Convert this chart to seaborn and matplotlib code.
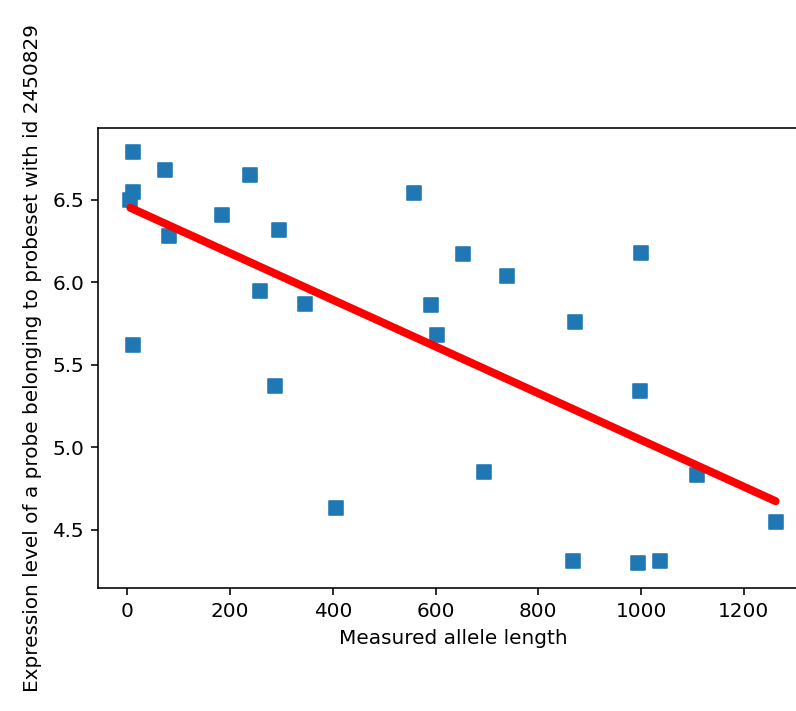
import numpy as np
import pandas as pd
import matplotlib
matplotlib.use("Agg")
import matplotlib.pyplot as plt
import seaborn as sns

allele_length = [12, 74, 238, 12, 6, 185, 82, 295, 258, 345, 558, 592, 603, 12,
                 653, 740, 999, 871, 288, 407, 998, 695, 1109, 1262, 867, 994, 1036]
expression = [6.79, 6.68, 6.65, 6.55, 6.50, 6.41, 6.28, 6.32, 5.95, 5.87, 6.54, 5.86, 5.68, 5.62,
              6.17, 6.04, 6.18, 5.76, 5.37, 4.63, 5.34, 4.85, 4.83, 4.55, 4.31, 4.30, 4.31]

x_label = "Measured allele length"
y_label = "Expression level of a probe belonging to probeset with id 2450829"

df = pd.DataFrame({"length": allele_length, "expr": expression})

sns.set_style("ticks")
plt.rcParams["font.family"] = ["DejaVu Sans"]
plt.rcParams["font.size"] = 10
plt.rcParams["text.color"] = "black"
plt.rcParams["axes.labelcolor"] = "black"

W, H, DPI = 796, 711, 144
fig = plt.figure(figsize=(W / DPI, H / DPI), dpi=DPI)
left, right, top, bottom = 98, 808, 128, 587.7
ax = fig.add_axes([left / W, 1 - bottom / H, (right - left) / W, (bottom - top) / H])

sns.scatterplot(data=df, x="length", y="expr", marker="s", s=44, color="#1f77b4",
                edgecolor="#1f77b4", linewidth=0.8, ax=ax, zorder=2)
sns.regplot(data=df, x="length", y="expr", scatter=False, ci=None, truncate=True,
            line_kws={"color": "red", "lw": 4, "zorder": 3}, ax=ax)

ax.set_xlim(-57, 1325)
ax.set_ylim(4.15, 6.935)
ax.set_xticks([0, 200, 400, 600, 800, 1000, 1200])
ax.set_yticks([4.5, 5.0, 5.5, 6.0, 6.5])
ax.set_xlabel(x_label, fontsize=10, color="black")
ax.set_ylabel(y_label, fontsize=10, color="black", labelpad=5)
ax.tick_params(labelsize=10, direction="out", length=3.5, width=0.8, colors="black",
               labelcolor="black")
for sp in ax.spines.values():
    sp.set_visible(True)
    sp.set_color("black")
    sp.set_linewidth(0.8)

fig.savefig("out.png", dpi=DPI)
